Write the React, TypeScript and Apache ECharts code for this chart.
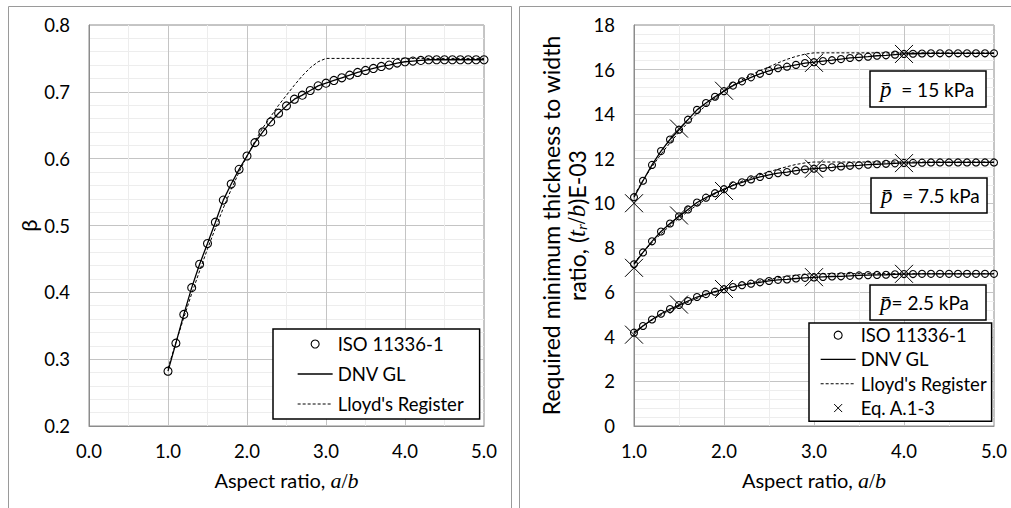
import React, { useEffect, useRef } from "react";
import * as echarts from "echarts";

const FONT = "Lato, 'Noto Sans', sans-serif";
const MATH = "'Liberation Serif', 'DejaVu Serif', serif";

// ---- data ----
const aspectRatios = [
  1.0, 1.1, 1.2, 1.3, 1.4, 1.5, 1.6, 1.7, 1.8, 1.9, 2.0, 2.1, 2.2, 2.3, 2.4, 2.5, 2.6, 2.7, 2.8, 2.9,
  3.0, 3.1, 3.2, 3.3, 3.4, 3.5, 3.6, 3.7, 3.8, 3.9, 4.0, 4.1, 4.2, 4.3, 4.4, 4.5, 4.6, 4.7, 4.8, 4.9, 5.0,
];
const isoBeta = [
  0.282, 0.324, 0.367, 0.407, 0.442, 0.473, 0.505, 0.538, 0.562, 0.584, 0.604, 0.624, 0.64, 0.655, 0.668,
  0.679, 0.689, 0.695, 0.702, 0.709, 0.713, 0.717, 0.721, 0.725, 0.729, 0.732, 0.735, 0.738, 0.74, 0.743,
  0.745, 0.746, 0.747, 0.748, 0.748, 0.748, 0.748, 0.748, 0.748, 0.748, 0.748,
];
const dnvBeta = isoBeta;
const lloydRatios = [
  1.0, 1.1, 1.2, 1.3, 1.4, 1.5, 1.6, 1.7, 1.8, 1.9, 2.0, 2.1, 2.2, 2.3, 2.4, 2.5, 2.6, 2.7, 2.8, 2.9, 3.0, 5.0,
];
const lloydBeta = [
  0.286, 0.325, 0.362, 0.398, 0.432, 0.465, 0.496, 0.526, 0.554, 0.58, 0.604, 0.626, 0.646, 0.663, 0.68,
  0.695, 0.71, 0.724, 0.736, 0.745, 0.75, 0.75,
];

const iso15 = [
  10.27, 11.01, 11.72, 12.34, 12.86, 13.3, 13.75, 14.19, 14.5, 14.78, 15.03, 15.28, 15.47, 15.65, 15.81,
  15.94, 16.06, 16.13, 16.21, 16.29, 16.33, 16.38, 16.42, 16.47, 16.52, 16.55, 16.58, 16.62, 16.64, 16.67,
  16.7, 16.71, 16.72, 16.73, 16.73, 16.73, 16.73, 16.73, 16.73, 16.73, 16.73,
];
const iso75 = [
  7.26, 7.79, 8.29, 8.73, 9.09, 9.41, 9.72, 10.03, 10.25, 10.45, 10.63, 10.8, 10.94, 11.07, 11.18, 11.27,
  11.35, 11.4, 11.46, 11.52, 11.55, 11.58, 11.61, 11.65, 11.68, 11.7, 11.73, 11.75, 11.77, 11.79, 11.81,
  11.81, 11.82, 11.83, 11.83, 11.83, 11.83, 11.83, 11.83, 11.83, 11.83,
];
const iso25 = [
  4.19, 4.49, 4.78, 5.04, 5.25, 5.43, 5.61, 5.79, 5.92, 6.03, 6.14, 6.24, 6.32, 6.39, 6.45, 6.51, 6.56,
  6.58, 6.62, 6.65, 6.67, 6.69, 6.71, 6.72, 6.74, 6.76, 6.77, 6.78, 6.79, 6.81, 6.82, 6.82, 6.83, 6.83,
  6.83, 6.83, 6.83, 6.83, 6.83, 6.83, 6.83,
];
const dnv15 = iso15;
const dnv75 = iso75;
const dnv25 = iso25;
const lloyd15 = [
  10.34, 11.03, 11.64, 12.2, 12.71, 13.19, 13.62, 14.03, 14.39, 14.73, 15.03, 15.3, 15.54, 15.75, 15.95,
  16.12, 16.3, 16.46, 16.59, 16.69, 16.75, 16.75,
];
const lloyd75 = [
  7.32, 7.8, 8.23, 8.63, 8.99, 9.33, 9.63, 9.92, 10.18, 10.42, 10.63, 10.82, 10.99, 11.14, 11.28, 11.41,
  11.53, 11.64, 11.74, 11.81, 11.85, 11.85,
];
const lloyd25 = [
  4.22, 4.5, 4.75, 4.98, 5.19, 5.38, 5.56, 5.73, 5.88, 6.01, 6.14, 6.25, 6.35, 6.43, 6.51, 6.58, 6.65,
  6.72, 6.77, 6.82, 6.84, 6.84,
];
const eqRatios = [1.0, 1.5, 2.0, 3.0, 4.0];
const eq15 = [10.0, 13.35, 15.05, 16.3, 16.7];
const eq75 = [7.1, 9.45, 10.55, 11.55, 11.8];
const eq25 = [4.1, 5.45, 6.15, 6.68, 6.83];

const pressureLabels = ["15", "7.5", "2.5"];

const NAME_ISO = "ISO 11336-1";
const NAME_DNV = "DNV GL";
const NAME_LR = "Lloyd's Register";
const NAME_EQ = "Eq. A.1-3";

const pairs = (xs: number[], ys: number[]) => xs.map((x, i) => [x, ys[i]]);

const CROSS = "path://M0,0L10,10M10,0L0,10";

function isoSeries(xi: number, ys: number[], size: number) {
  return {
    type: "line",
    name: NAME_ISO,
    xAxisIndex: xi,
    yAxisIndex: xi,
    data: pairs(aspectRatios, ys),
    symbol: "circle",
    symbolSize: size,
    showSymbol: true,
    lineStyle: { width: 0, opacity: 0 },
    itemStyle: { color: "transparent", borderColor: "#000", borderWidth: 1.1 },
    z: 4,
  };
}
function lineSeries(xi: number, name: string, xs: number[], ys: number[], dashed: boolean) {
  return {
    type: "line",
    name,
    xAxisIndex: xi,
    yAxisIndex: xi,
    data: pairs(xs, ys),
    symbol: "none",
    lineStyle: { color: "#000", width: dashed ? 1 : 1.3, type: dashed ? [3, 2] : "solid" },
    itemStyle: { color: "transparent", borderColor: "transparent", borderWidth: 0 },
    z: 3,
  };
}
function eqSeries(ys: number[]) {
  return {
    type: "line",
    name: NAME_EQ,
    xAxisIndex: 1,
    yAxisIndex: 1,
    data: pairs(eqRatios, ys),
    symbol: CROSS,
    symbolSize: 18,
    showSymbol: true,
    lineStyle: { width: 0, opacity: 0 },
    itemStyle: { color: "transparent", borderColor: "#000", borderWidth: 1 },
    z: 5,
  };
}

const legendItems = {
  iso: {
    name: NAME_ISO,
    itemStyle: { color: "transparent", borderColor: "#000", borderWidth: 1.1 },
    lineStyle: { width: 0, opacity: 0 },
  },
  dnv: {
    name: NAME_DNV,
    itemStyle: { color: "transparent", borderColor: "transparent", borderWidth: 0 },
    lineStyle: { color: "#000", width: 1.3, type: "solid" },
  },
  lr: {
    name: NAME_LR,
    itemStyle: { color: "transparent", borderColor: "transparent", borderWidth: 0 },
    lineStyle: { color: "#000", width: 1, type: [3, 2] },
  },
  eq: {
    name: NAME_EQ,
    itemStyle: { color: "transparent", borderColor: "#000", borderWidth: 1 },
    lineStyle: { width: 0, opacity: 0 },
  },
};

const axisBase = {
  axisLine: { show: true, onZero: false, lineStyle: { color: "#8c8c8c", width: 1 } },
  axisTick: { show: false },
  splitLine: { show: true, lineStyle: { color: "#c4c4c4", width: 1 } },
  minorSplitLine: { show: true, lineStyle: { color: "#ededed", width: 1 } },
};
const labelBase = { color: "#000", fontSize: 18.5, fontFamily: FONT };

const xName = "{n|Aspect ratio, }{i|a}{s|/}{i|b}";
const xNameStyle = {
  fontSize: 20,
  fontFamily: FONT,
  color: "#000",
  rich: {
    n: { fontSize: 20, fontFamily: FONT, color: "#000" },
    i: { fontSize: 22, fontFamily: MATH, fontStyle: "italic", color: "#000" },
    s: { fontSize: 22, fontFamily: MATH, color: "#000" },
  },
};

function pBox(x: number, y: number, w: number, h: number, value: string, gap: string) {
  return [
    {
      type: "rect",
      z: 100,
      shape: { x, y, width: w, height: h },
      style: { fill: "#fff", stroke: "#000", lineWidth: 1.5 },
    },
    {
      type: "text",
      z: 101,
      x: x + 10,
      y: y + h / 2,
      style: {
        text: `{p|p\u0304}{t|${gap}= ${value} kPa}`,
        verticalAlign: "middle",
        rich: {
          p: { fontSize: 23, fontFamily: MATH, fontStyle: "italic", fill: "#000" },
          t: { fontSize: 19, fontFamily: FONT, fill: "#000" },
        },
      },
    },
  ];
}

export default function App() {
  const ref = useRef<HTMLDivElement>(null);
  useEffect(() => {
    document.body.style.margin = "0";
    document.body.style.overflow = "hidden";
    const chart = echarts.init(ref.current!, null, { renderer: "svg" });
    const option: any = {
      animation: false,
      backgroundColor: "#fff",
      textStyle: { fontFamily: FONT },
      grid: [
        { left: 89, top: 25, width: 395, height: 401, show: true, borderColor: "#8c8c8c", borderWidth: 1, backgroundColor: "transparent" },
        { left: 634, top: 25, width: 360, height: 401, show: true, borderColor: "#8c8c8c", borderWidth: 1, backgroundColor: "transparent" },
      ],
      xAxis: [
        {
          ...axisBase,
          gridIndex: 0,
          type: "value",
          min: 0,
          max: 5,
          interval: 1,
          minorTick: { show: false, splitNumber: 2 },
          axisLabel: { ...labelBase, margin: 15, formatter: (v: number) => v.toFixed(1) },
          name: xName,
          nameLocation: "middle",
          nameGap: 43,
          nameTextStyle: xNameStyle,
        },
        {
          ...axisBase,
          gridIndex: 1,
          type: "value",
          min: 1,
          max: 5,
          interval: 1,
          minorTick: { show: false, splitNumber: 2 },
          axisLabel: { ...labelBase, margin: 15, formatter: (v: number) => v.toFixed(1) },
          name: xName,
          nameLocation: "middle",
          nameGap: 43,
          nameTextStyle: xNameStyle,
        },
      ],
      yAxis: [
        {
          ...axisBase,
          gridIndex: 0,
          type: "value",
          min: 0.2,
          max: 0.8,
          interval: 0.1,
          minorTick: { show: false, splitNumber: 5 },
          axisLabel: { ...labelBase, margin: 19, formatter: (v: number) => v.toFixed(1) },
          name: "β",
          nameLocation: "middle",
          nameGap: 50,
          nameTextStyle: { fontSize: 22, fontFamily: FONT, color: "#000" },
        },
        {
          ...axisBase,
          gridIndex: 1,
          type: "value",
          min: 0,
          max: 18,
          interval: 2,
          minorTick: { show: false, splitNumber: 5 },
          axisLabel: { ...labelBase, margin: 19 },
          name:
            "{n|Required minimum thickness to width}\n{n|ratio, (}{i|t}{s|r}{m|/}{i|b}{n|)E-03}",
          nameLocation: "middle",
          nameGap: 39,
          nameTextStyle: {
            fontSize: 23,
            fontFamily: FONT,
            color: "#000",
            lineHeight: 26,
            rich: {
              n: { fontSize: 23, fontFamily: FONT, color: "#000", lineHeight: 26 },
              i: { fontSize: 25, fontFamily: MATH, fontStyle: "italic", color: "#000", lineHeight: 26 },
              m: { fontSize: 25, fontFamily: MATH, color: "#000", lineHeight: 26 },
              s: {
                fontSize: 15,
                fontFamily: MATH,
                fontStyle: "italic",
                color: "#000",
                lineHeight: 12,
                verticalAlign: "bottom",
              },
            },
          },
        },
      ],
      legend: [
        {
          orient: "vertical",
          left: 273,
          top: 329,
          itemWidth: 35,
          itemHeight: 10,
          itemGap: 0,
          padding: [0, 16, 0, 24],
          borderColor: "#000",
          borderWidth: 1.5,
          backgroundColor: "#fff",
          selectedMode: false,
          textStyle: { fontSize: 18.5, fontFamily: FONT, color: "#000", lineHeight: 30 },
          data: [legendItems.iso, legendItems.dnv, legendItems.lr],
          z: 50,
        },
        {
          orient: "vertical",
          left: 809,
          top: 323,
          itemWidth: 35,
          itemHeight: 10,
          itemGap: 0,
          padding: [0, 5, 1, 11],
          borderColor: "#000",
          borderWidth: 1.5,
          backgroundColor: "#fff",
          selectedMode: false,
          textStyle: { fontSize: 18.5, fontFamily: FONT, color: "#000", lineHeight: 24.3 },
          data: [legendItems.iso, legendItems.dnv, legendItems.lr, legendItems.eq],
          z: 50,
        },
      ],
      graphic: [
        {
          type: "rect",
          z: -1,
          silent: true,
          shape: { x: 8.5, y: 6.5, width: 503, height: 600 },
          style: { fill: "none", stroke: "#9a9a9a", lineWidth: 1 },
        },
        {
          type: "rect",
          z: -1,
          silent: true,
          shape: { x: 519.5, y: 6.5, width: 600, height: 600 },
          style: { fill: "none", stroke: "#9a9a9a", lineWidth: 1 },
        },
        ...pBox(870, 71, 116, 36, pressureLabels[0], "  "),
        ...pBox(871, 178, 116, 35, pressureLabels[1], "  "),
        ...pBox(870, 285, 116, 35, pressureLabels[2], ""),
      ],
      series: [
        lineSeries(0, NAME_DNV, aspectRatios, dnvBeta, false),
        lineSeries(0, NAME_LR, lloydRatios, lloydBeta, true),
        isoSeries(0, isoBeta, 8),
        lineSeries(1, NAME_DNV, aspectRatios, dnv15, false),
        lineSeries(1, NAME_DNV, aspectRatios, dnv75, false),
        lineSeries(1, NAME_DNV, aspectRatios, dnv25, false),
        lineSeries(1, NAME_LR, lloydRatios, lloyd15, true),
        lineSeries(1, NAME_LR, lloydRatios, lloyd75, true),
        lineSeries(1, NAME_LR, lloydRatios, lloyd25, true),
        isoSeries(1, iso15, 7),
        isoSeries(1, iso75, 7),
        isoSeries(1, iso25, 7),
        eqSeries(eq15),
        eqSeries(eq75),
        eqSeries(eq25),
      ],
    };
    chart.setOption(option);
    return () => chart.dispose();
  }, []);
  return <div ref={ref} style={{ width: 1011, height: 508 }} />;
}
